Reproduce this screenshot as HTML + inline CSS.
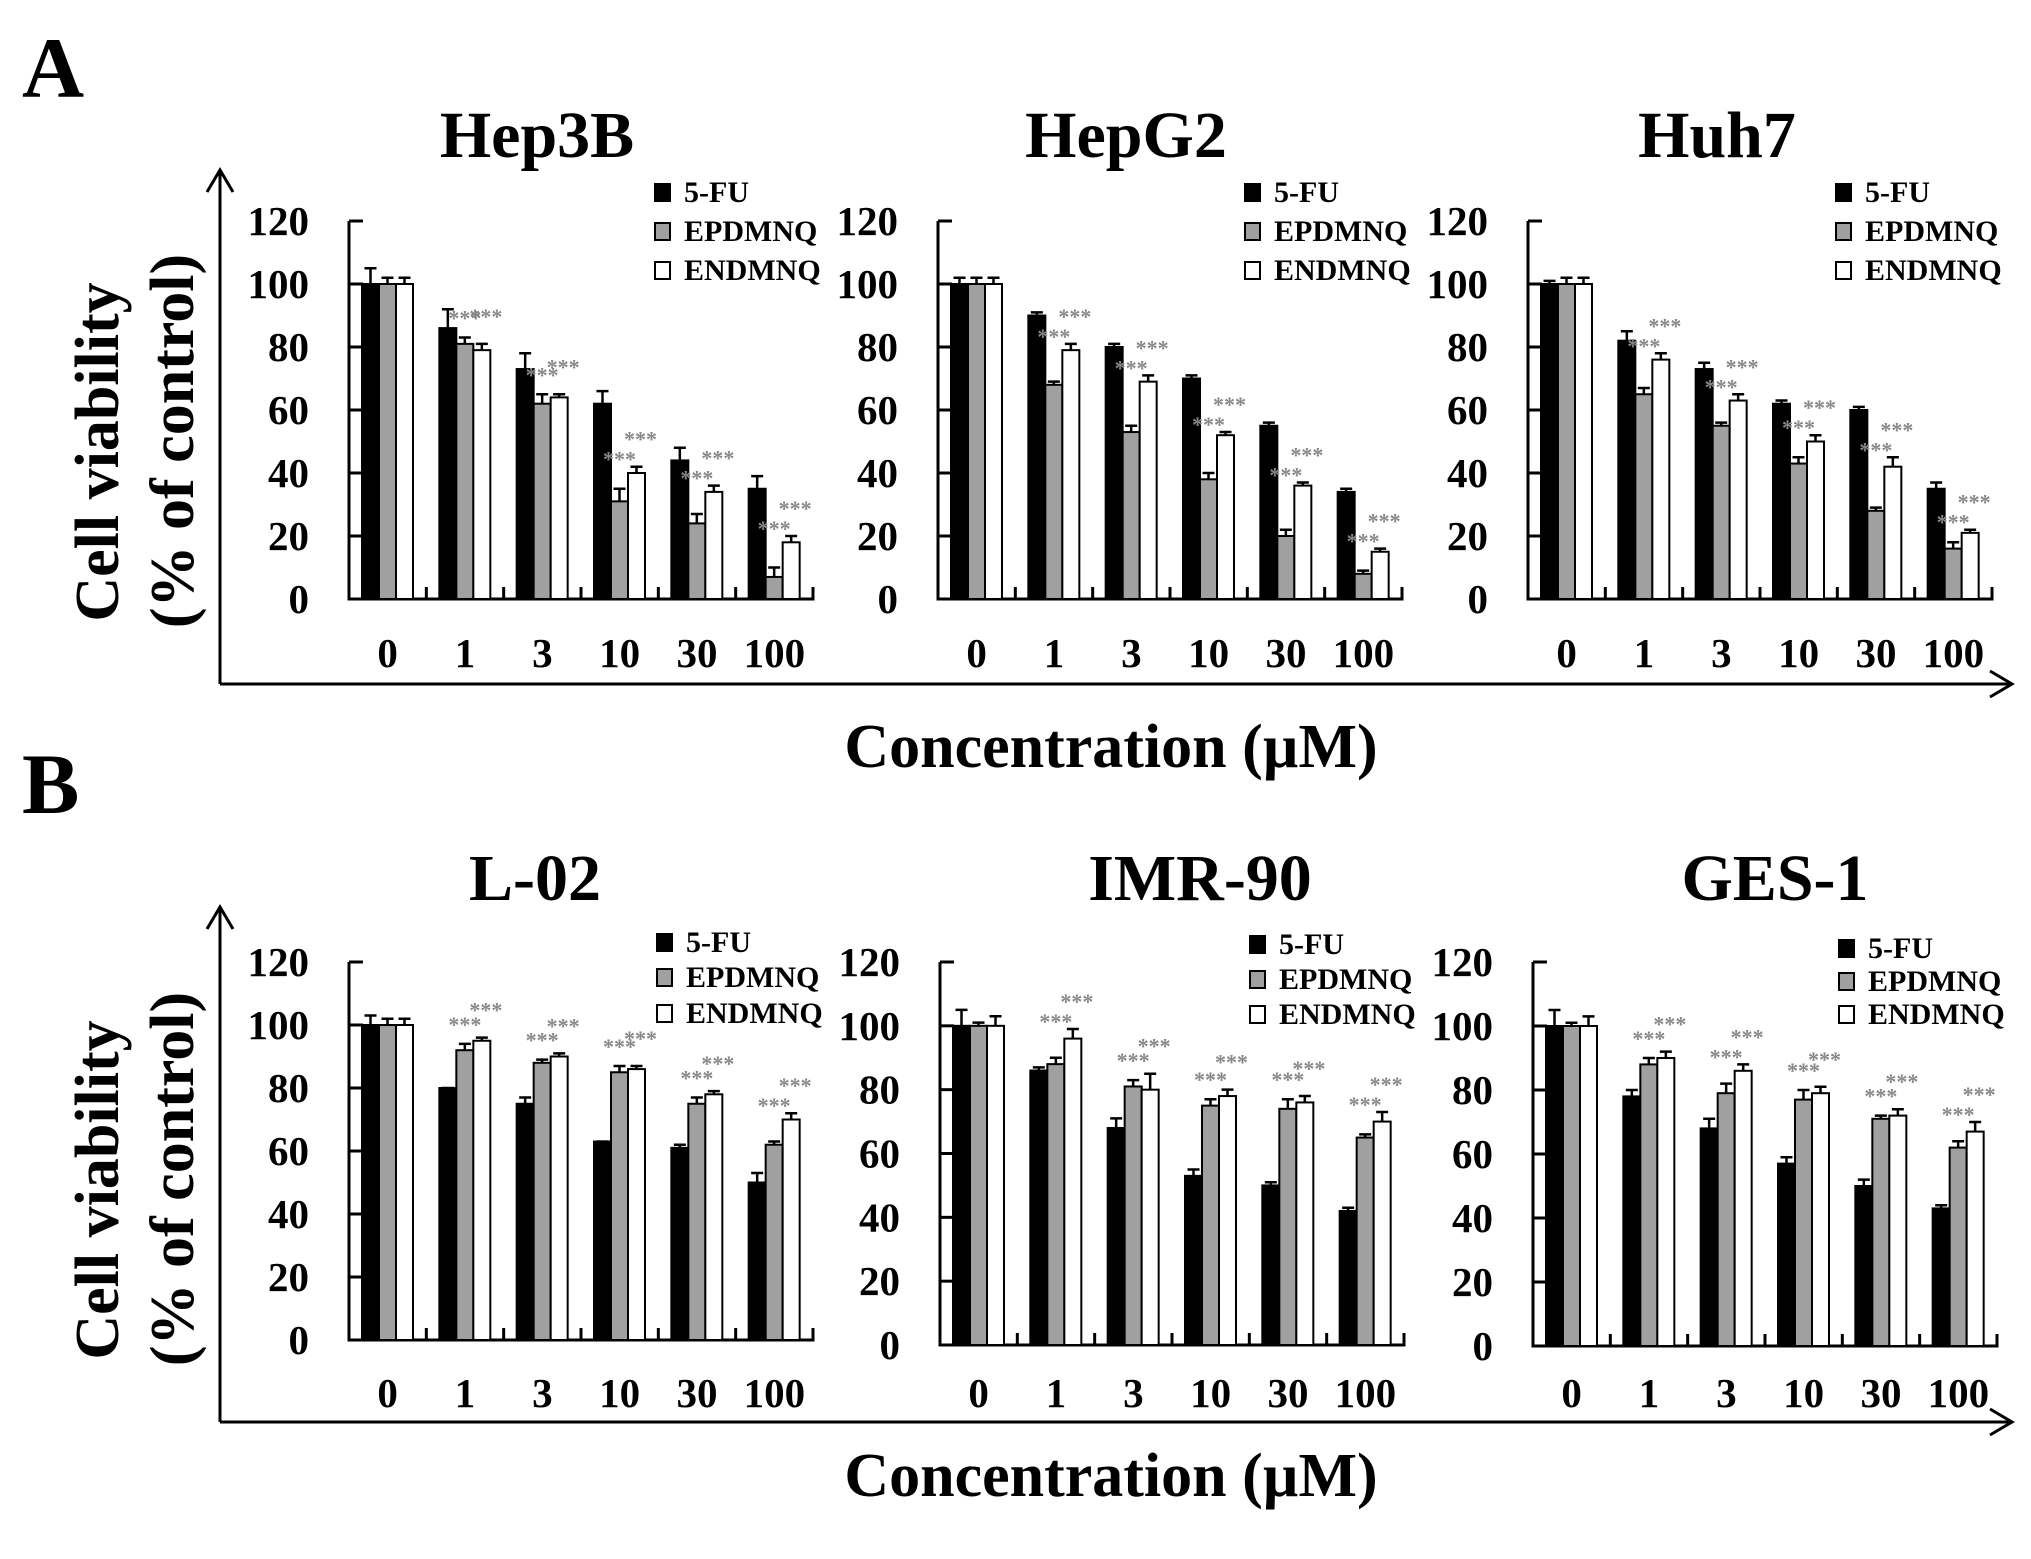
<!DOCTYPE html>
<html><head><meta charset="utf-8"><style>
html,body{margin:0;padding:0;background:#fff;}
svg{display:block;font-family:"Liberation Serif",serif;font-weight:bold;}
</style></head><body>
<svg id="fig" width="2031" height="1559" viewBox="0 0 2031 1559" xmlns="http://www.w3.org/2000/svg">
<g id="static">
<text x="22" y="97" font-size="86">A</text>
<text x="22" y="813" font-size="86">B</text>
<g stroke="#000" stroke-width="3" fill="none">
<path d="M220 684 V172 M207 192 L220 170 L233 192"/>
<path d="M220 684 H2010 M1990 671 L2012 684 L1990 697"/>
</g>
<g stroke="#000" stroke-width="3" fill="none">
<path d="M220 1422 V909 M207 929 L220 907 L233 929"/>
<path d="M220 1422 H2010 M1990 1409 L2012 1422 L1990 1435"/>
</g>
<text transform="translate(118,452) rotate(-90)" text-anchor="middle" font-size="62">Cell viability</text>
<text transform="translate(193,441) rotate(-90)" text-anchor="middle" font-size="62">(% of control)</text>
<text transform="translate(118,1190) rotate(-90)" text-anchor="middle" font-size="62">Cell viability</text>
<text transform="translate(193,1179) rotate(-90)" text-anchor="middle" font-size="62">(% of control)</text>
<text x="1111" y="767" text-anchor="middle" font-size="62">Concentration (µM)</text>
<text x="1111" y="1496" text-anchor="middle" font-size="62">Concentration (µM)</text>
</g>
<g id="charts"></g>
</svg>
<script>
const categories = ["0","1","3","10","30","100"];
const yTicks = [0,20,40,60,80,100,120];
const seriesNames = ["5-FU","EPDMNQ","ENDMNQ"];
const panelTitles = ["Hep3B","HepG2","Huh7","L-02","IMR-90","GES-1"];
const fuVals = [[100,86,73,62,44,35],[100,90,80,70,55,34],[100,82,73,62,60,35],[100,80,75,63,61,50],[100,86,68,53,50,42],[100,78,68,57,50,43]];
const fuErr = [[5,6,5,4,4,4],[2,1,1,1,1,1],[1,3,2,1,1,2],[3,0,2,0,1,3],[5,1,3,2,1,1],[5,2,3,2,2,1]];
const epVals = [[100,81,62,31,24,7],[100,68,53,38,20,8],[100,65,55,43,28,16],[100,92,88,85,75,62],[100,88,81,75,74,65],[100,88,79,77,71,62]];
const epErr = [[2,2,3,4,3,3],[2,1,2,2,2,1],[2,2,1,2,1,2],[2,2,1,2,2,1],[1,2,2,2,3,1],[1,2,3,3,1,2]];
const enVals = [[100,79,64,40,34,18],[100,79,69,52,36,15],[100,76,63,50,42,21],[100,95,90,86,78,70],[100,96,80,78,76,70],[100,90,86,79,72,67]];
const enErr = [[2,2,1,2,2,2],[2,2,2,1,1,1],[2,2,2,2,3,1],[2,1,1,1,1,2],[3,3,5,2,2,3],[3,2,2,2,2,3]];
const sigGroups = [1,2,3,4,5];

const NS="http://www.w3.org/2000/svg";
const root=document.getElementById('charts');
function mk(tag,attrs,parent){const e=document.createElementNS(NS,tag);for(const k in attrs)e.setAttribute(k,attrs[k]);(parent||root).appendChild(e);return e;}
const layout=[
 {x0:349,y0:599,yt:221,tx:537,ty:157,lx:655,ly:[192,231,270],lb:667},
 {x0:938,y0:599,yt:221,tx:1126,ty:157,lx:1245,ly:[192,231,270],lb:667},
 {x0:1528,y0:599,yt:221,tx:1717,ty:157,lx:1836,ly:[192,231,270],lb:667},
 {x0:349,y0:1340,yt:962,tx:535,ty:900,lx:657,ly:[942,977,1013],lb:1407},
 {x0:940,y0:1345,yt:962,tx:1200,ty:900,lx:1250,ly:[944,979,1014],lb:1407},
 {x0:1533,y0:1346,yt:962,tx:1775,ty:900,lx:1839,ly:[948,981,1014],lb:1407}
];
const W=464, fills=["#000","#a0a0a0","#fff"];
layout.forEach((L,p)=>{
  const g=mk('g',{});
  
  
  const yS=v=>L.y0-(v/120)*(L.y0-L.yt);
  const gw=W/categories.length;
  const xS=i=>L.x0+i*gw;
  const t=mk('text',{x:L.tx,y:L.ty,'text-anchor':'middle','font-size':66},g);t.textContent=panelTitles[p];
  
  
  const ax=mk('path',{d:`M${L.x0} ${L.yt} V${L.y0} H${L.x0+W} V${L.y0-12}`,stroke:'#000','stroke-width':3,fill:'none'},g);
  
  
  yTicks.forEach(v=>{
    const y=yS(v);
    const tk=mk('line',{x1:L.x0,x2:L.x0+14,y1:y,y2:y,stroke:'#000','stroke-width':3},g);
    
    
    const tl=mk('text',{x:L.x0-40,y:y+14,'text-anchor':'end','font-size':41},g);tl.textContent=v;
    
    
  });
  categories.forEach((c,i)=>{
    if(i>0){const xt=mk('line',{x1:xS(i),x2:xS(i),y1:L.y0,y2:L.y0-12,stroke:'#000','stroke-width':3},g);
      
      }
    const xl=mk('text',{x:xS(i)+gw/2,y:L.lb,'text-anchor':'middle','font-size':41},g);xl.textContent=c;
    
    
    const vals=[fuVals[p][i],epVals[p][i],enVals[p][i]];
    const errs=[fuErr[p][i],epErr[p][i],enErr[p][i]];
    const bw=17, bx0=xS(i)+13;
    const tops=[];
    vals.forEach((v,s)=>{
      const bx=bx0+s*bw, top=yS(v);
      const r=mk('rect',{x:bx,y:top,width:bw,height:L.y0-top,fill:fills[s],stroke:'#000','stroke-width':2},g);
      
      
      const et=yS(v+errs[s]);tops.push(et);
      const cx=bx+bw/2;
      const e=mk('path',{d:`M${cx} ${top} V${et} M${cx-6} ${et} H${cx+6}`,stroke:'#000','stroke-width':2.5,fill:'none'},g);
      
      
    });
    if(sigGroups.includes(i)){
      const epY=Math.min(tops[1]-18,tops[2]-6);
      const enY=tops[2]-14;
      const s1=mk('text',{x:bx0+1.5*bw,y:epY+6,'text-anchor':'middle','font-size':22,fill:'#888'},g);s1.textContent='***';
      
      
      const s2=mk('text',{x:bx0+2.5*bw+4,y:enY-6,'text-anchor':'middle','font-size':22,fill:'#888'},g);s2.textContent='***';
      
      
    }
  });
  seriesNames.forEach((n,s)=>{
    const lg=mk('g',{},g);
    
    
    mk('rect',{x:L.lx,y:L.ly[s]-8,width:15,height:17,fill:fills[s],stroke:'#000','stroke-width':2},lg);
    const lt=mk('text',{x:L.lx+29,y:L.ly[s]+10,'font-size':30},lg);lt.textContent=n;
  });
});
</script>
</body></html>
